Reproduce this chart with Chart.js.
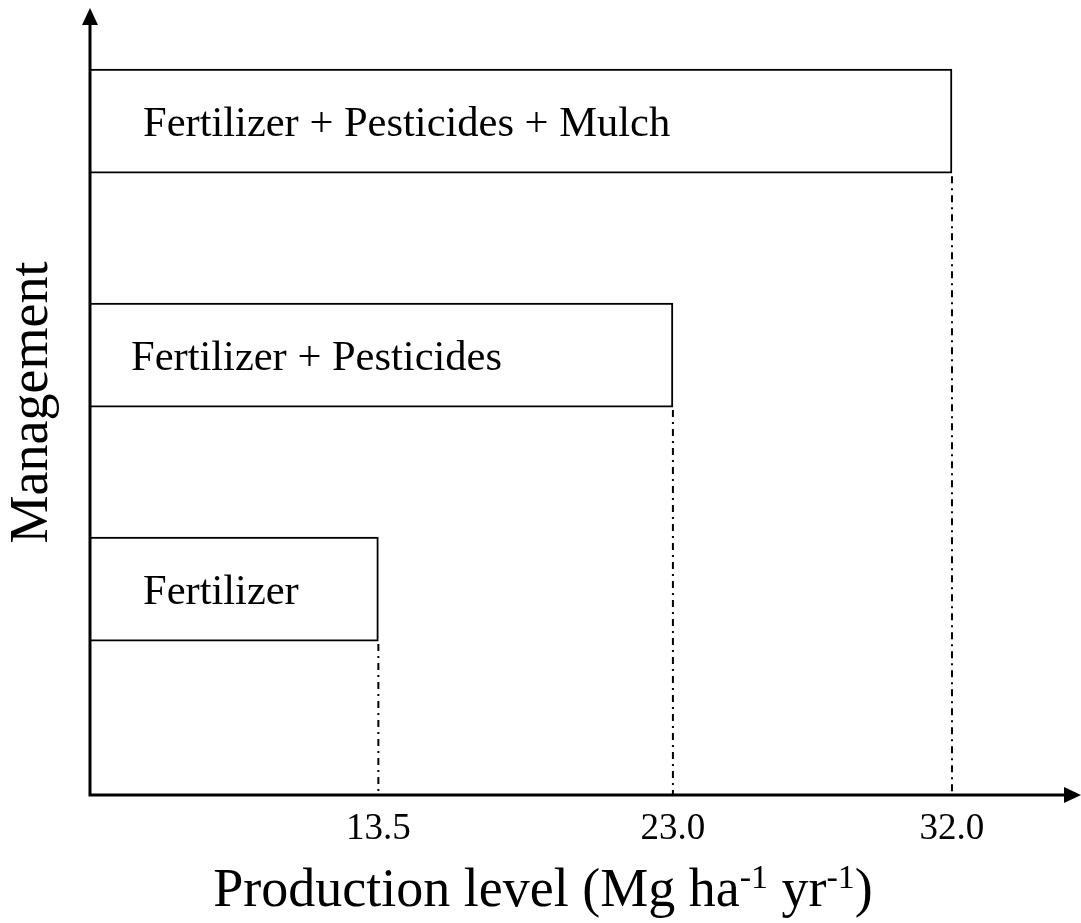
<!DOCTYPE html>
<html>
<head>
<meta charset="utf-8">
<script src="https://cdn.jsdelivr.net/npm/chart.js@4"></script>
<style>
  html, body { margin: 0; padding: 0; background: #fff; }
  #wrap { width: 1081px; height: 923px; }
</style>
</head>
<body>
<div id="wrap"><canvas id="chart" width="1081" height="923"></canvas></div>
<script>
// ---------- Data ----------
const categories = ["Fertilizer + Pesticides + Mulch", "Fertilizer + Pesticides", "Fertilizer"];
const production = [32.0, 23.0, 13.5];
const tickValues = [13.5, 23.0, 32.0];
// x title pieces: [text, superscript?]
const xTitleParts = [["Production level (Mg ha", false], ["-1", true], [" yr", false], ["-1", true], [")", false]];
const yTitle = "Management";

const FONT = "'Liberation Serif', 'Times New Roman', serif";
const labelInset = [53, 41, 53];

// y position for each row, top row highest
const points = categories.map((c, i) => ({ x: production[i], y: categories.length - i }));

// ---------- Plugins ----------
const axesPlugin = {
    id: "axesPlugin",
    afterDatasetsDraw(chart) {
        const { ctx, chartArea } = chart;
        const meta = chart.getDatasetMeta(0);

        // dash-dot drop lines from bar ends to the x axis
        ctx.save();
        ctx.strokeStyle = "#000";
        ctx.lineWidth = 2;
        ctx.setLineDash([7, 5, 2, 5]);
        meta.data.forEach(bar => {
            const p = bar.getProps(["x", "y", "height"], true);
            ctx.beginPath();
            ctx.moveTo(p.x, p.y + p.height / 2 + 3);
            ctx.lineTo(p.x, chartArea.bottom);
            ctx.stroke();
        });
        ctx.restore();

        // labels inside the bars
        ctx.save();
        ctx.fillStyle = "#000";
        ctx.font = "42.5px " + FONT;
        ctx.textBaseline = "middle";
        ctx.textAlign = "left";
        meta.data.forEach((bar, i) => {
            const p = bar.getProps(["y"], true);
            ctx.fillText(categories[i], chartArea.left + labelInset[i], p.y + 4);
        });
        ctx.restore();

        // axes with arrow heads
        const left = chartArea.left, bottom = chartArea.bottom;
        const right = chart.width, top = 8;
        ctx.save();
        ctx.strokeStyle = "#000";
        ctx.fillStyle = "#000";
        ctx.lineWidth = 3;
        ctx.beginPath();
        ctx.moveTo(left, bottom + 1.5);
        ctx.lineTo(left, top + 10);
        ctx.moveTo(left - 1.5, bottom);
        ctx.lineTo(right - 10, bottom);
        ctx.stroke();
        ctx.beginPath();
        ctx.moveTo(left, top);
        ctx.lineTo(left - 8, top + 17);
        ctx.lineTo(left + 8, top + 17);
        ctx.closePath();
        ctx.fill();
        ctx.beginPath();
        ctx.moveTo(right, bottom);
        ctx.lineTo(right - 17, bottom - 8);
        ctx.lineTo(right - 17, bottom + 8);
        ctx.closePath();
        ctx.fill();
        ctx.restore();

        // x axis title with superscripts
        ctx.save();
        ctx.fillStyle = "#000";
        ctx.textBaseline = "alphabetic";
        ctx.textAlign = "left";
        const mainFont = "54px " + FONT, supFont = "34px " + FONT;
        let total = 0;
        xTitleParts.forEach(([t, sup]) => {
            ctx.font = sup ? supFont : mainFont;
            total += ctx.measureText(t).width;
        });
        let x = 543 - total / 2;
        const base = 906;
        xTitleParts.forEach(([t, sup]) => {
            ctx.font = sup ? supFont : mainFont;
            ctx.fillText(t, x, sup ? base - 18 : base);
            x += ctx.measureText(t).width;
        });
        ctx.restore();
    }
};

// ---------- Chart ----------
new Chart(document.getElementById("chart"), {
    type: "bar",
    data: {
        labels: categories,
        datasets: [{
            data: points,
            backgroundColor: "#fff",
            borderColor: "#000",
            borderWidth: 2,
            borderSkipped: false,
            barThickness: 104
        }]
    },
    options: {
        indexAxis: "y",
        responsive: false,
        animation: false,
        events: [],
        layout: { padding: { top: 10, right: 5, bottom: 0, left: 0 } },
        plugins: {
            legend: { display: false },
            tooltip: { enabled: false }
        },
        scales: {
            x: {
                type: "linear",
                min: 4.2,
                max: 36.0,
                afterBuildTicks: axis => { axis.ticks = tickValues.map(v => ({ value: v })); },
                afterFit: scale => { scale.height = 128; },
                grid: { display: false, drawTicks: false },
                border: { display: false },
                ticks: {
                    padding: 12,
                    color: "#000",
                    font: { family: FONT, size: 37 },
                    callback: v => v.toFixed(1)
                }
            },
            y: {
                type: "linear",
                offset: false,
                min: 0.12,
                max: 3.475,
                afterFit: scale => { scale.width = 90; },
                grid: { display: false, drawTicks: false },
                border: { display: false },
                ticks: { display: false },
                title: {
                    display: true,
                    text: yTitle,
                    color: "#000",
                    font: { family: FONT, size: 54 },
                    padding: { top: 0, bottom: 0 }
                }
            }
        }
    },
    plugins: [axesPlugin]
});
</script>
</body>
</html>
